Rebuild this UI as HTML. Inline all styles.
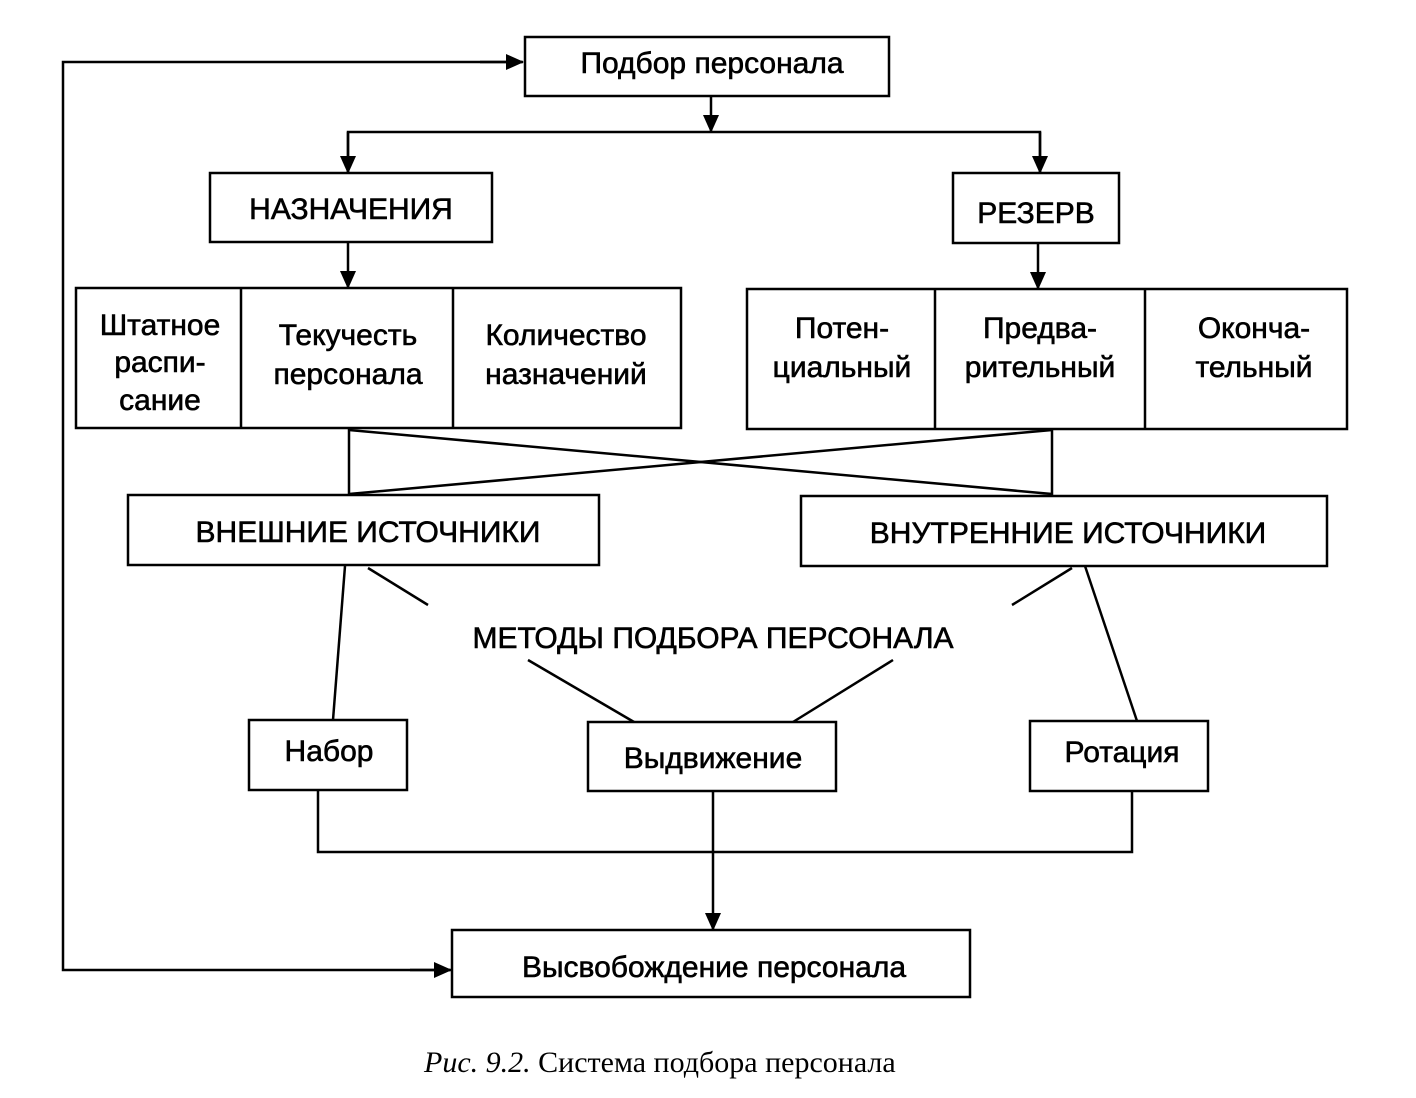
<!DOCTYPE html>
<html><head><meta charset="utf-8"><style>
html,body{margin:0;padding:0;background:#fff}
svg{display:block}
text{font-family:"Liberation Sans",sans-serif;font-size:30px;fill:#000;stroke:#000;stroke-width:0.6;text-anchor:middle}
.c{font-family:"Liberation Serif",serif;font-size:30px;stroke:none;text-anchor:start}
</style></head><body>
<svg width="1416" height="1098" viewBox="0 0 1416 1098" xmlns="http://www.w3.org/2000/svg">
<defs><marker id="a" markerWidth="10" markerHeight="10" refX="9" refY="5" orient="auto" markerUnits="userSpaceOnUse"><path d="M0,0 L10,5 L0,10 Z" fill="#000"/></marker>
<marker id="b" markerWidth="18" markerHeight="16" refX="17" refY="8" orient="auto" markerUnits="userSpaceOnUse"><path d="M0,0 L18,8 L0,16 Z" fill="#000"/></marker></defs>
<g fill="none" stroke="#000" stroke-width="2.5">
<rect x="525" y="37" width="364" height="59"/>
<rect x="210" y="173" width="282" height="69"/>
<rect x="953" y="173" width="166" height="70"/>
<rect x="76" y="288" width="605" height="140"/>
<line x1="241" y1="288" x2="241" y2="428"/><line x1="453" y1="288" x2="453" y2="428"/>
<rect x="747" y="289" width="600" height="140"/>
<line x1="935" y1="289" x2="935" y2="429"/><line x1="1145" y1="289" x2="1145" y2="429"/>
<rect x="128" y="495" width="471" height="70"/>
<rect x="801" y="496" width="526" height="70"/>
<rect x="249" y="720" width="158" height="70"/>
<rect x="588" y="722" width="248" height="69"/>
<rect x="1030" y="721" width="178" height="70"/>
<rect x="452" y="930" width="518" height="67"/>
<line x1="711" y1="96" x2="711" y2="132" marker-end="url(#b)"/>
<polyline points="348,172 348,132 1040,132 1040,172"/>
<line x1="348" y1="132" x2="348" y2="173" marker-end="url(#b)"/>
<line x1="1040" y1="132" x2="1040" y2="173" marker-end="url(#b)"/>
<line x1="348" y1="242" x2="348" y2="288" marker-end="url(#b)"/>
<line x1="1038" y1="243" x2="1038" y2="289" marker-end="url(#b)"/>
<line x1="349" y1="428" x2="349" y2="495"/>
<line x1="1052" y1="429" x2="1052" y2="496"/>
<line x1="349" y1="430" x2="1052" y2="494"/>
<line x1="1052" y1="430" x2="349" y2="494"/>
<line x1="345" y1="566" x2="333" y2="720"/>
<line x1="1085" y1="566" x2="1137" y2="721"/>
<line x1="368" y1="568" x2="428" y2="605"/>
<line x1="1072" y1="568" x2="1012" y2="605"/>
<line x1="528" y1="660" x2="634" y2="722"/>
<line x1="893" y1="660" x2="793" y2="722"/>
<polyline points="318,790 318,852 1132,852 1132,791"/>
<line x1="713" y1="791" x2="713" y2="930" marker-end="url(#b)"/>
<polyline points="522,62 63,62 63,970 450,970"/>
<line x1="480" y1="62" x2="523" y2="62" marker-end="url(#b)"/>
<line x1="410" y1="970" x2="451" y2="970" marker-end="url(#b)"/>
</g>
<text x="712" y="73">Подбор персонала</text>
<text x="351" y="219">НАЗНАЧЕНИЯ</text>
<text x="1036" y="223">РЕЗЕРВ</text>
<text x="160" y="335">Штатное</text><text x="160" y="372">распи-</text><text x="160" y="410">сание</text>
<text x="348" y="345">Текучесть</text><text x="348" y="384">персонала</text>
<text x="566" y="345">Количество</text><text x="566" y="384">назначений</text>
<text x="842" y="338">Потен-</text><text x="842" y="377">циальный</text>
<text x="1040" y="338">Предва-</text><text x="1040" y="377">рительный</text>
<text x="1254" y="338">Оконча-</text><text x="1254" y="377">тельный</text>
<text x="368" y="542">ВНЕШНИЕ ИСТОЧНИКИ</text>
<text x="1068" y="543">ВНУТРЕННИЕ ИСТОЧНИКИ</text>
<text x="713" y="648">МЕТОДЫ ПОДБОРА ПЕРСОНАЛА</text>
<text x="329" y="761">Набор</text>
<text x="713" y="768">Выдвижение</text>
<text x="1122" y="762">Ротация</text>
<text x="714" y="977">Высвобождение персонала</text>
<text class="c" x="424" y="1072"><tspan font-style="italic">Рис. 9.2.</tspan> Система подбора персонала</text>
</svg>
</body></html>
